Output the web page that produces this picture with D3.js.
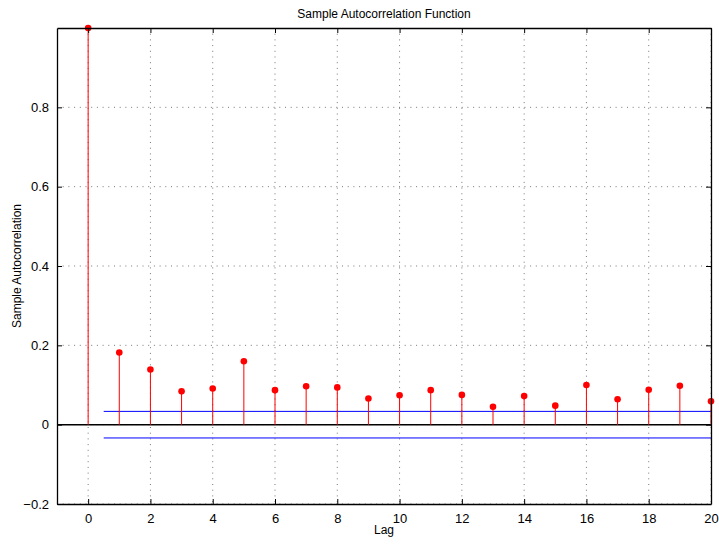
<!DOCTYPE html>
<html>
<head>
<meta charset="utf-8">
<script src="https://cdn.jsdelivr.net/npm/d3@7"></script>
<style>
  body { margin: 0; background: #fff; }
  text { font-family: "Liberation Sans", Arial, Helvetica, sans-serif; }
</style>
</head>
<body>
<div id="chart"></div>
<script>
// values
var lags = [0, 1, 2, 3, 4, 5, 6, 7, 8, 9, 10, 11, 12, 13, 14, 15, 16, 17, 18, 19, 20];
var acf = [1.0, 0.182, 0.139, 0.084, 0.091, 0.160, 0.087, 0.097, 0.094, 0.066, 0.074,
           0.087, 0.075, 0.045, 0.072, 0.048, 0.100, 0.064, 0.088, 0.098, 0.059];
var bounds = [0.0335, -0.0335]; // confidence bounds
var xTicks = [0, 2, 4, 6, 8, 10, 12, 14, 16, 18, 20];
var yTicks = [-0.2, 0, 0.2, 0.4, 0.6, 0.8];

var w = 719, h = 544;
var margin = { top: 28, right: 8, bottom: 40, left: 57 };
var width = w - margin.left - margin.right;   // 654
var height = h - margin.top - margin.bottom;  // 476

var svg = d3.select("#chart").append("svg")
    .attr("width", w)
    .attr("height", h);

var g = svg.append("g")
    .attr("transform", "translate(" + margin.left + "," + margin.top + ")");

var x = d3.scaleLinear().domain([-1, 20]).range([0, width]);
var y = d3.scaleLinear().domain([-0.2, 1]).range([height, 0]);

// dotted grid
g.append("g").selectAll("line")
    .data(xTicks)
    .enter().append("line")
    .attr("x1", d => x(d)).attr("x2", d => x(d))
    .attr("y1", 0).attr("y2", height)
    .attr("stroke", "#555")
    .attr("stroke-width", 0.8)
    .attr("stroke-dasharray", "1,4.7");

g.append("g").selectAll("line")
    .data(yTicks)
    .enter().append("line")
    .attr("x1", 0).attr("x2", width)
    .attr("y1", d => y(d)).attr("y2", d => y(d))
    .attr("stroke", "#555")
    .attr("stroke-width", 0.8)
    .attr("stroke-dasharray", "1,4.7");

// zero line
g.append("line")
    .attr("x1", 0).attr("x2", width)
    .attr("y1", y(0)).attr("y2", y(0))
    .attr("stroke", "#000")
    .attr("stroke-width", 1.5);

// confidence bounds
g.append("g").selectAll("line")
    .data(bounds)
    .enter().append("line")
    .attr("x1", x(0.5)).attr("x2", x(20))
    .attr("y1", d => y(d)).attr("y2", d => y(d))
    .attr("stroke", "#0000ff")
    .attr("stroke-width", 1);

// stems
g.append("g").selectAll("line")
    .data(lags)
    .enter().append("line")
    .attr("x1", d => x(d)).attr("x2", d => x(d))
    .attr("y1", y(0)).attr("y2", (d, i) => y(acf[i]))
    .attr("stroke", "#ff0000")
    .attr("stroke-width", 1);

// markers
g.append("g").selectAll("circle")
    .data(lags)
    .enter().append("circle")
    .attr("cx", d => x(d))
    .attr("cy", (d, i) => y(acf[i]))
    .attr("r", 3.3)
    .attr("fill", "#ff0000");

// box + inward ticks on all sides (matlab style)
var fmt = d => (d < 0 ? "\u2212" : "") + d3.format("")(Math.abs(d));

var xb = g.append("g").attr("transform", "translate(0," + height + ")")
    .call(d3.axisBottom(x).tickValues(xTicks).tickSizeInner(-5).tickSizeOuter(0).tickPadding(10).tickFormat(fmt));
var xt = g.append("g")
    .call(d3.axisTop(x).tickValues(xTicks).tickSizeInner(-5).tickSizeOuter(0).tickFormat(""));
var yl = g.append("g")
    .call(d3.axisLeft(y).tickValues(yTicks).tickSizeInner(-5).tickSizeOuter(0).tickPadding(8).tickFormat(fmt));
var yr = g.append("g").attr("transform", "translate(" + width + ",0)")
    .call(d3.axisRight(y).tickValues(yTicks).tickSizeInner(-5).tickSizeOuter(0).tickFormat(""));

[xb, xt, yl, yr].forEach(function(a) {
    a.select(".domain").attr("stroke", "#000").attr("stroke-width", 1.3);
    a.selectAll(".tick line").attr("stroke", "#000").attr("stroke-width", 1);
    a.selectAll(".tick text")
        .attr("fill", "#000")
        .style("font-size", "13px")
        .style("font-family", "'Liberation Sans', Arial, sans-serif");
});

// titles
svg.append("text")
    .attr("x", margin.left + width / 2)
    .attr("y", 18)
    .attr("text-anchor", "middle")
    .style("font-size", "12px")
    .text("Sample Autocorrelation Function");

svg.append("text")
    .attr("x", margin.left + width / 2)
    .attr("y", 534)
    .attr("text-anchor", "middle")
    .style("font-size", "12px")
    .text("Lag");

svg.append("text")
    .attr("transform", "translate(21," + (margin.top + height / 2) + ") rotate(-90)")
    .attr("text-anchor", "middle")
    .style("font-size", "12px")
    .text("Sample Autocorrelation");
</script>
</body>
</html>
